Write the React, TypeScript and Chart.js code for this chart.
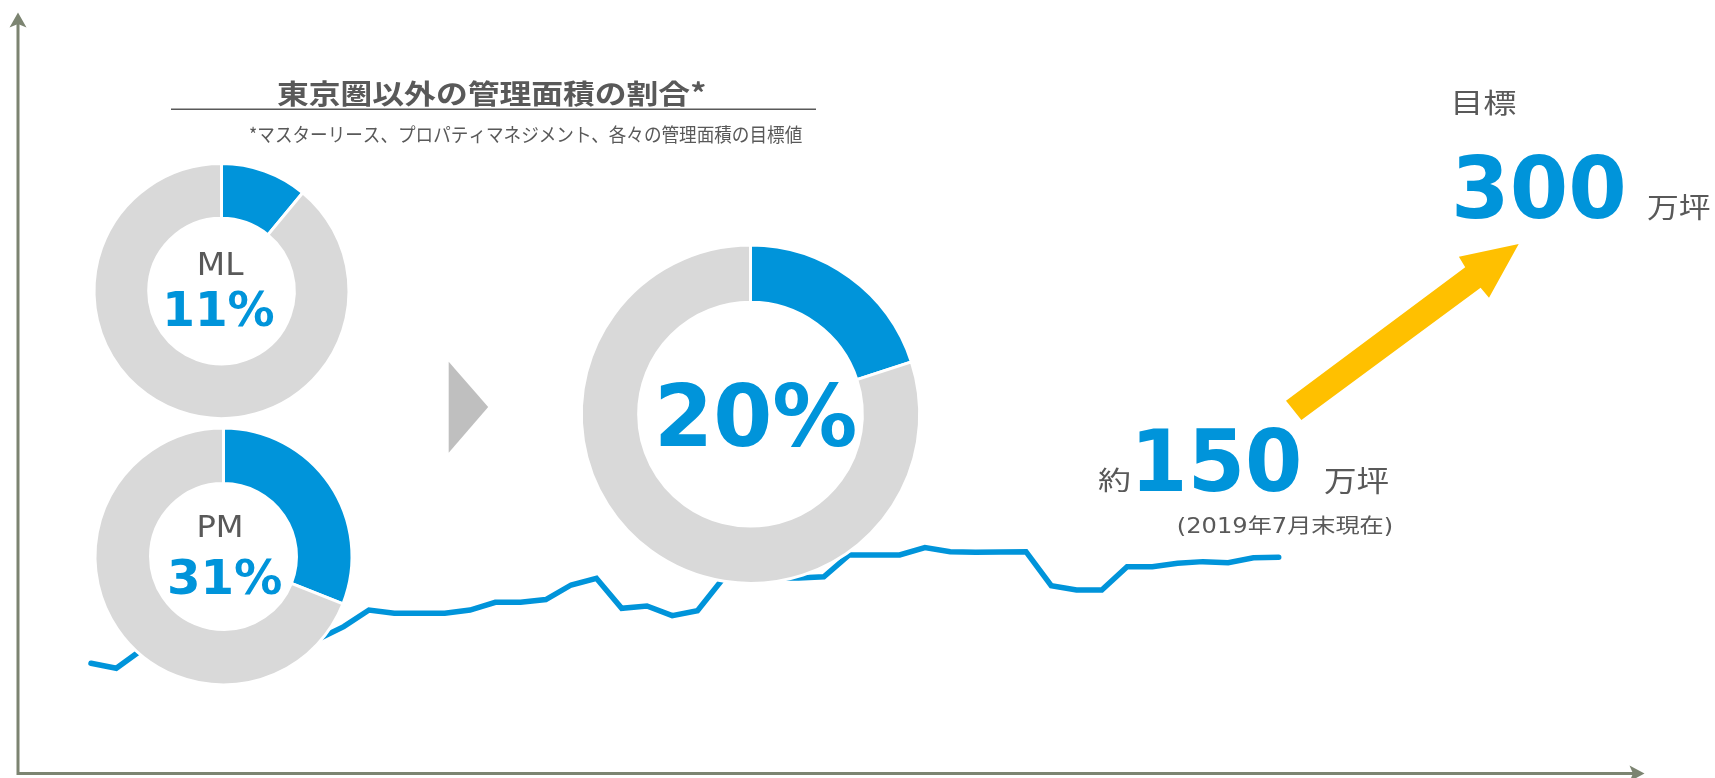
import React, { useEffect, useRef } from "react";
import { Chart, registerables } from "chart.js";

Chart.register(...registerables);

const W = 1715;
const H = 778;

const BLUE = "#0094da";
const RING_GRAY = "#d9d9d9";
const TEXT_GRAY = "#595959";
const AXIS = "#7c8471";
const ARROW_YELLOW = "#ffc000";
const CHEVRON_GRAY = "#bfbfbf";

// 管理面積の推移（万坪）— 月次、最終点 = 2019年7月末（約150万坪）
const managedArea = [
  76.5, 73.0, 85.7, 88.5, 89.2, 90.5, 91.2, 91.9, 92.6, 93.3,
  101.9, 113.4, 111.2, 111.2, 111.2, 113.4, 118.8, 118.8, 120.7, 130.8,
  135.4, 114.6, 116.2, 109.5, 113.0, 134.9, 135.6, 135.6, 135.6, 136.5,
  151.6, 151.6, 151.6, 156.7, 153.9, 153.5, 153.7, 153.9, 130.3, 127.3,
  127.3, 143.5, 143.5, 145.8, 147.0, 146.3, 149.7, 150.0,
];

// 東京圏以外の管理面積の割合（%）
const donutLabels = ["東京圏以外", "東京圏"];
const mlShare = [11, 89];
const pmShare = [31, 69];
const targetShare = [20, 80];

// texts
const titleText = "東京圏以外の管理面積の割合*";
const noteText = "*マスターリース、プロパティマネジメント、各々の管理面積の目標値";
const mlName = "ML";
const mlPct = "11%";
const pmName = "PM";
const pmPct = "31%";
const targetPct = "20%";
const approxText = "約";
const currentValue = "150";
const unitText = "万坪";
const asOfText = "(2019年7月末現在)";
const goalLabel = "目標";
const goalValue = "300";

const LATIN = '"DejaVu Sans", "Noto Sans CJK JP", sans-serif';
const CJK = '"Noto Sans CJK JP", "DejaVu Sans", sans-serif';

type Box = [number, number, number, number];

function fitInk(
  ctx: CanvasRenderingContext2D,
  text: string,
  weight: string,
  family: string,
  color: string,
  box: Box
) {
  const [x0, x1, y0, y1] = box;
  ctx.save();
  ctx.textAlign = "left";
  ctx.textBaseline = "alphabetic";
  ctx.font = `${weight} 100px ${family}`;
  let m = ctx.measureText(text);
  const inkH = m.actualBoundingBoxAscent + m.actualBoundingBoxDescent;
  const size = (100 * (y1 - y0)) / inkH;
  ctx.font = `${weight} ${size}px ${family}`;
  m = ctx.measureText(text);
  const inkW = m.actualBoundingBoxLeft + m.actualBoundingBoxRight;
  const sx = (x1 - x0) / inkW;
  ctx.translate(x0, y0);
  ctx.scale(sx, 1);
  ctx.fillStyle = color;
  ctx.fillText(text, m.actualBoundingBoxLeft, m.actualBoundingBoxAscent);
  ctx.restore();
}

const decorPlugin = {
  id: "decor",
  beforeDatasetsDraw(chart: any) {
    const ctx: CanvasRenderingContext2D = chart.ctx;
    ctx.save();
    // axes
    ctx.strokeStyle = AXIS;
    ctx.lineWidth = 3;
    ctx.lineJoin = "miter";
    ctx.beginPath();
    ctx.moveTo(18, 24);
    ctx.lineTo(18, 773.5);
    ctx.lineTo(1634, 773.5);
    ctx.stroke();
    ctx.fillStyle = AXIS;
    ctx.beginPath();
    ctx.moveTo(18, 12.5);
    ctx.lineTo(26.5, 27.5);
    ctx.lineTo(18, 24);
    ctx.lineTo(9.5, 27.5);
    ctx.closePath();
    ctx.fill();
    ctx.beginPath();
    ctx.moveTo(1644.5, 773.5);
    ctx.lineTo(1629.5, 781.5);
    ctx.lineTo(1633, 773.5);
    ctx.lineTo(1629.5, 765.5);
    ctx.closePath();
    ctx.fill();
    // title underline
    ctx.strokeStyle = TEXT_GRAY;
    ctx.lineWidth = 1.5;
    ctx.beginPath();
    ctx.moveTo(171, 109.3);
    ctx.lineTo(816, 109.3);
    ctx.stroke();
    // chevron
    ctx.fillStyle = CHEVRON_GRAY;
    ctx.beginPath();
    ctx.moveTo(448.7, 361.7);
    ctx.lineTo(488.2, 406.9);
    ctx.lineTo(448.7, 452.7);
    ctx.closePath();
    ctx.fill();
    // growth arrow
    ctx.fillStyle = ARROW_YELLOW;
    ctx.beginPath();
    ctx.moveTo(1286, 400.7);
    ctx.lineTo(1465.2, 267.3);
    ctx.lineTo(1458.9, 256.7);
    ctx.lineTo(1518.7, 244);
    ctx.lineTo(1489, 297.7);
    ctx.lineTo(1480.6, 287.7);
    ctx.lineTo(1301.4, 420);
    ctx.closePath();
    ctx.fill();
    ctx.restore();
  },
};

const textPlugin = {
  id: "texts",
  afterDraw(chart: any) {
    const ctx: CanvasRenderingContext2D = chart.ctx;
    fitInk(ctx, titleText, "bold", CJK, TEXT_GRAY, [277, 705, 80, 107]);
    fitInk(ctx, noteText, "normal", CJK, TEXT_GRAY, [250, 802, 125, 143.3]);
    fitInk(ctx, mlName, "normal", LATIN, TEXT_GRAY, [200, 244, 252, 275]);
    fitInk(ctx, mlPct, "bold", LATIN, BLUE, [167, 274, 290, 327]);
    fitInk(ctx, pmName, "normal", LATIN, TEXT_GRAY, [198.6, 241.4, 515, 537.3]);
    fitInk(ctx, pmPct, "bold", LATIN, BLUE, [170, 281, 558, 594]);
    fitInk(ctx, targetPct, "bold", LATIN, BLUE, [660, 855, 381.7, 447.3]);
    fitInk(ctx, approxText, "normal", CJK, TEXT_GRAY, [1098, 1129, 467, 492]);
    fitInk(ctx, currentValue, "bold", LATIN, BLUE, [1139, 1299, 426.7, 491.7]);
    fitInk(ctx, unitText, "normal", CJK, TEXT_GRAY, [1324, 1388, 466, 493]);
    fitInk(ctx, asOfText, "normal", LATIN, TEXT_GRAY, [1178, 1392, 515, 535]);
    fitInk(ctx, goalLabel, "normal", CJK, TEXT_GRAY, [1455, 1516, 89.3, 115]);
    fitInk(ctx, goalValue, "bold", LATIN, BLUE, [1456, 1623, 154, 219.3]);
    fitInk(ctx, unitText, "normal", CJK, TEXT_GRAY, [1647, 1710, 192.7, 219.3]);
  },
};

const X_START_PX = 91;
const X_STEP_PX = 25.27;
const xMin = -X_START_PX / X_STEP_PX;
const xMax = xMin + W / X_STEP_PX;
const Y_ZERO_PX = 773.5;
const Y_UNIT_PX = 1.4413;
const yMin = -(H - Y_ZERO_PX) / Y_UNIT_PX;
const yMax = yMin + H / Y_UNIT_PX;

function lineConfig(): any {
  return {
    type: "line",
    data: {
      datasets: [
        {
          label: "管理面積（万坪）",
          data: managedArea.map((v, i) => ({ x: i, y: v })),
          borderColor: BLUE,
          borderWidth: 5.5,
          borderCapStyle: "round",
          borderJoinStyle: "miter",
          pointRadius: 0,
          tension: 0,
          fill: false,
        },
      ],
    },
    options: {
      responsive: false,
      animation: false,
      events: [],
      layout: { padding: 0, autoPadding: false },
      scales: {
        x: { type: "linear", display: false, min: xMin, max: xMax },
        y: { type: "linear", display: false, min: yMin, max: yMax },
      },
      plugins: { legend: { display: false }, tooltip: { enabled: false } },
    },
    plugins: [decorPlugin],
  };
}

function donutConfig(
  values: number[],
  cx: number,
  cy: number,
  radius: number,
  cutoutPct: number,
  plugins: any[]
): any {
  const S = radius * 2 + 12;
  return {
    type: "doughnut",
    data: {
      labels: donutLabels,
      datasets: [
        {
          data: values,
          backgroundColor: [BLUE, RING_GRAY],
          borderColor: "#ffffff",
          borderWidth: 3,
          hoverBorderWidth: 3,
        },
      ],
    },
    options: {
      responsive: false,
      animation: false,
      events: [],
      radius,
      cutout: `${cutoutPct}%`,
      layout: {
        padding: {
          left: cx - S / 2,
          right: W - cx - S / 2,
          top: cy - S / 2,
          bottom: H - cy - S / 2,
        },
      },
      plugins: { legend: { display: false }, tooltip: { enabled: false } },
    },
    plugins,
  };
}

const canvasStyle: React.CSSProperties = {
  position: "absolute",
  left: 0,
  top: 0,
  width: W,
  height: H,
};

export default function App() {
  const lineRef = useRef<HTMLCanvasElement>(null);
  const mlRef = useRef<HTMLCanvasElement>(null);
  const pmRef = useRef<HTMLCanvasElement>(null);
  const bigRef = useRef<HTMLCanvasElement>(null);

  useEffect(() => {
    const charts = [
      new Chart(lineRef.current as HTMLCanvasElement, lineConfig()),
      new Chart(mlRef.current as HTMLCanvasElement, donutConfig(mlShare, 221.5, 291, 127.5, 57.1, [])),
      new Chart(pmRef.current as HTMLCanvasElement, donutConfig(pmShare, 223.5, 556.5, 128.5, 56.8, [])),
      new Chart(bigRef.current as HTMLCanvasElement, donutConfig(targetShare, 750.5, 414.2, 169.2, 66.1, [textPlugin])),
    ];
    return () => charts.forEach((c) => c.destroy());
  }, []);

  return (
    <div
      style={{
        position: "fixed",
        left: 0,
        top: 0,
        width: W,
        height: H,
        background: "#ffffff",
        overflow: "hidden",
      }}
    >
      <canvas ref={lineRef} width={W} height={H} style={canvasStyle} />
      <canvas ref={mlRef} width={W} height={H} style={canvasStyle} />
      <canvas ref={pmRef} width={W} height={H} style={canvasStyle} />
      <canvas ref={bigRef} width={W} height={H} style={canvasStyle} />
    </div>
  );
}
